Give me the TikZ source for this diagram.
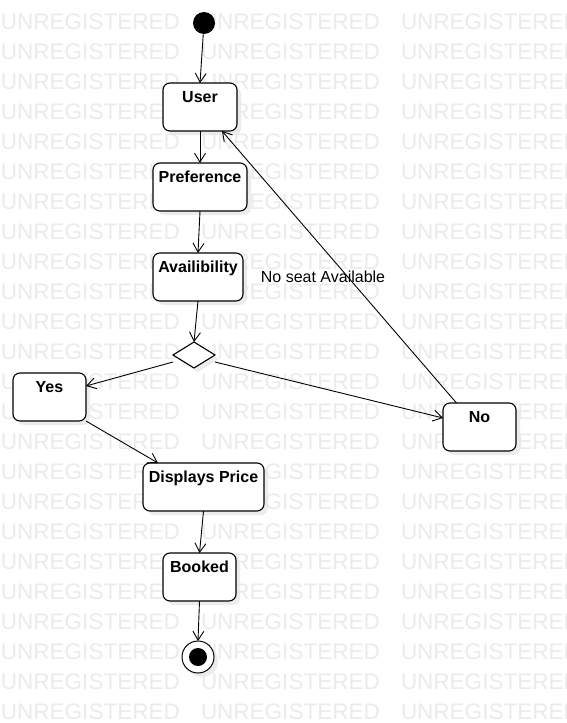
\documentclass[tikz,border=0pt]{standalone}
\usepackage{fontspec}
\setmainfont{Liberation Sans}
\usetikzlibrary{arrows.meta,shapes.geometric,shadows,calc}

\begin{document}
\begin{tikzpicture}[x=1pt,y=-1pt,
  every node/.style={inner sep=0pt, outer sep=0pt},
  wm/.style={anchor=west, text=black!8, font=\fontsize{22.5}{26}\selectfont},
  state/.style={draw=black, line width=1.1pt, fill=white, rounded corners=7pt,
    minimum height=48pt,
    drop shadow={shadow xshift=4pt, shadow yshift=-4pt, fill=black!10, opacity=0.7}},
  lbl/.style={anchor=north, yshift=-8pt, font=\bfseries\fontsize{16}{19}\selectfont,
    text height=11.5pt, text depth=3.5pt},
  decision/.style={diamond, draw=black, line width=1.1pt, fill=white,
    minimum width=42pt, minimum height=26pt,
    drop shadow={shadow xshift=4pt, shadow yshift=-4pt, fill=black!10, opacity=0.7}},
  ar/.style={line width=0.9pt, -{Straight Barb[length=9pt,width=11pt,line width=0.9pt]}},
  note/.style={font=\fontsize{16}{19}\selectfont}
]
\useasboundingbox (0,0) rectangle (566,723);
\fill[white] (0,0) rectangle (566,723);

% background stamp
\begin{scope}
  \clip (0,0) rectangle (566,723);
  \foreach \r in {0,...,23}
    \foreach \c in {0,1,2}
      \node[wm] (wm-\r-\c) at (\c*200+1, 22+30*\r) {UNREGISTERED};
\end{scope}

% start and end
\node[circle, fill=black, minimum size=22pt] (init) at (204,23) {};
\node[circle, draw=black, line width=1pt, fill=white, minimum size=32pt,
  drop shadow={shadow xshift=4pt, shadow yshift=-4pt, fill=black!10, opacity=0.7},
  path picture={\fill[black] (path picture bounding box.center) circle (9pt);}]
  (fin) at (198,657) {};

% activities
\node[state, minimum width=74pt, label={[lbl]north:User}] (user) at (200,107) {};
\node[state, minimum width=94pt, label={[lbl]north:Preference}] (pref) at (200,187) {};
\node[state, minimum width=90pt, label={[lbl]north:Availibility}] (avail) at (198,277) {};
\node[decision] (dec) at (194,355) {};
\node[state, minimum width=73pt, label={[lbl]north:Yes}] (yes) at (49.5,397) {};
\node[state, minimum width=73pt, label={[lbl]north:No}] (no) at (479.5,427) {};
\node[state, minimum width=121pt, label={[lbl]north:Displays Price}] (disp) at (203.5,487) {};
\node[state, minimum width=73pt, label={[lbl]north:Booked}] (booked) at (199.5,577) {};

% guard text of the return flow
\node[note] (lblno) at (323,277) {No seat Available};

% flow
\draw[ar] (init) -- (user.north);
\draw[ar] (user.south) -- (pref.north);
\draw[ar] (pref.south) -- (avail.north);
\draw[ar] (avail.south) -- (dec.north);
\draw[ar] ($(dec.west)+(0,7)$) -- ($(yes.east)+(0,-11)$);
\draw[ar] ($(dec.east)+(0,7)$) -- ($(no.west)+(0,-9)$);
\draw[ar] ($(no.north)+(-23,0)$) -- ($(user.south east)+(-15,0)$);
\draw[ar] (yes.south east) -- ($(disp.north west)+(15,0)$);
\draw[ar] (disp.south) -- (booked.north);
\draw[ar] (booked.south) -- (fin.north);
\end{tikzpicture}
\end{document}
